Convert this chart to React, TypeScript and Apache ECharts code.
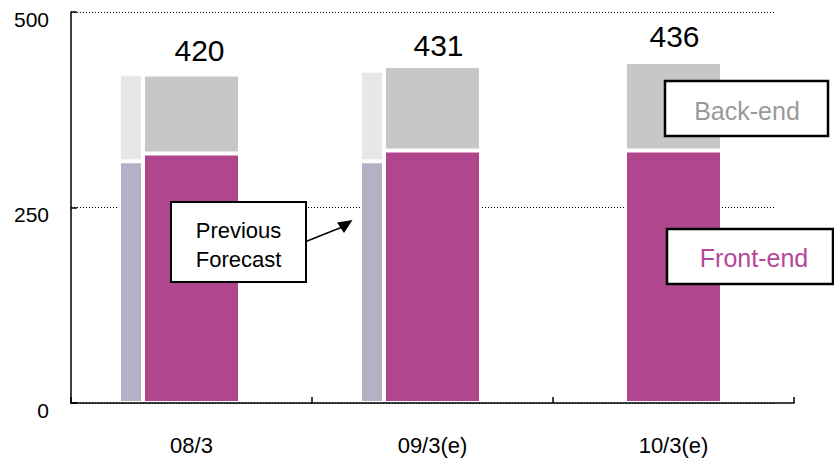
import React, { useEffect, useRef } from "react";
import * as echarts from "echarts";

// Fiscal years on the category axis
const categories = ["08/3", "09/3(e)", "10/3(e)"];

// Current figures, stacked: front-end at the bottom, back-end above it
const frontEnd = [319, 323, 323];
const backEnd = [101, 108, 113];

// Previous forecast, drawn as a narrow bar to the left
const prevFrontEnd: (number | null)[] = [309, 309, null];
const prevBackEnd: (number | null)[] = [112, 116, null];

// Value axis
const yMin = 0;
const yMax = 500;
const yStep = 250;

const FONT = "'Liberation Sans', Arial, Helvetica, sans-serif";
const MAGENTA = "#B0478E";
const BACK_GRAY = "#C7C7C7";
const PREV_FRONT = "#B4B1C7";
const PREV_BACK = "#E7E7E7";

// small nudges for the total labels
const totalLabelOffsets: [number, number][] = [
  [8, -1],
  [6, 3],
  [1, -3],
];

export default function App() {
  const ref = useRef<HTMLDivElement>(null);

  useEffect(() => {
    if (!ref.current) return;
    const chart = echarts.init(ref.current, undefined, { renderer: "svg" });

    const barBorder = { borderColor: "#ffffff", borderWidth: 2 };
    const Z = 100;

    const option: echarts.EChartsOption = {
      animation: false,
      backgroundColor: "#ffffff",
      textStyle: { fontFamily: FONT },
      grid: [
        { left: 71, right: 40, top: 12, bottom: 56, containLabel: false },
        { left: 71, right: 60, top: 12, bottom: 56, containLabel: false },
      ],
      xAxis: [
        {
          type: "category",
          gridIndex: 0,
          data: categories,
          boundaryGap: true,
          z: 5,
          axisLine: { lineStyle: { color: "#000", width: 1.5 } },
          axisTick: {
            show: true,
            inside: true,
            length: 6,
            lineStyle: { color: "#000", width: 1.5 },
          },
          axisLabel: {
            color: "#000",
            fontSize: 22,
            fontFamily: FONT,
            margin: 31,
          },
        },
        {
          type: "value",
          gridIndex: 1,
          min: 0,
          max: 1,
          show: false,
        },
      ],
      yAxis: [
        {
          type: "value",
          gridIndex: 0,
          min: yMin,
          max: yMax,
          interval: yStep,
          z: 5,
          axisLine: { show: true, lineStyle: { color: "#000", width: 1.5 } },
          axisTick: {
            show: true,
            inside: true,
            length: 6,
            lineStyle: { color: "#000", width: 1.5 },
          },
          axisLabel: {
            color: "#000",
            fontSize: 21,
            fontFamily: FONT,
            margin: 22,
            verticalAlign: "top",
            lineHeight: 14,
          },
          splitLine: { show: false },
        },
        {
          type: "value",
          gridIndex: 1,
          min: yMin,
          max: yMax,
          interval: yStep,
          axisLine: { show: false },
          axisTick: { show: false },
          axisLabel: { show: false },
          splitLine: {
            show: true,
            lineStyle: { color: "#000", width: 1, type: [1, 2] },
          },
        },
      ],
      series: [
        {
          name: "Previous front-end",
          type: "bar",
          stack: "prev",
          barWidth: 24,
          barGap: "0%",
          data: prevFrontEnd,
          itemStyle: { color: PREV_FRONT, ...barBorder },
        },
        {
          name: "Previous back-end",
          type: "bar",
          stack: "prev",
          data: prevBackEnd,
          itemStyle: { color: PREV_BACK, ...barBorder },
        },
        {
          name: "Front-end",
          type: "bar",
          stack: "main",
          barWidth: 97,
          barGap: "0%",
          data: frontEnd,
          itemStyle: { color: MAGENTA, ...barBorder },
        },
        {
          name: "Back-end",
          type: "bar",
          stack: "main",
          data: backEnd.map((v, i) => ({
            value: v,
            label: { offset: totalLabelOffsets[i] },
          })),
          itemStyle: { color: BACK_GRAY, ...barBorder },
          label: {
            show: true,
            position: "top",
            distance: 8,
            color: "#000",
            fontSize: 30,
            fontFamily: FONT,
            formatter: (p: any) =>
              String(frontEnd[p.dataIndex] + backEnd[p.dataIndex]),
          },
        },
        {
          // keeps the main bar centred on its category
          name: "spacer",
          type: "bar",
          stack: "spacer",
          barWidth: 24,
          barGap: "0%",
          data: categories.map(() => "-"),
          itemStyle: { color: "transparent" },
          silent: true,
        },
      ],
      graphic: [
        {
          type: "rect",
          z: Z,
          shape: { x: 171, y: 202, width: 135, height: 80 },
          style: { fill: "#fff", stroke: "#000", lineWidth: 2 },
        },
        {
          type: "text",
          z: Z + 1,
          x: 238.5,
          y: 244.5,
          style: {
            text: "Previous\nForecast",
            fill: "#000",
            font: `22px ${FONT}`,
            lineHeight: 29,
            align: "center",
            verticalAlign: "middle",
          },
        },
        {
          type: "line",
          z: Z,
          shape: { x1: 306, y1: 241.5, x2: 341, y2: 227.5 },
          style: { stroke: "#000", lineWidth: 1.5 },
        },
        {
          type: "polygon",
          z: Z,
          shape: {
            points: [
              [352.5, 220],
              [337, 222.5],
              [344, 233],
            ],
          },
          style: { fill: "#000" },
        },
        {
          type: "rect",
          z: Z,
          shape: { x: 665, y: 81, width: 163, height: 55 },
          style: { fill: "#fff", stroke: "#000", lineWidth: 2.5 },
        },
        {
          type: "text",
          z: Z + 1,
          x: 747,
          y: 111,
          style: {
            text: "Back-end",
            fill: "#999999",
            font: `25px ${FONT}`,
            align: "center",
            verticalAlign: "middle",
          },
        },
        {
          type: "rect",
          z: Z,
          shape: { x: 667, y: 229, width: 166, height: 55 },
          style: { fill: "#fff", stroke: "#000", lineWidth: 2.5 },
        },
        {
          type: "text",
          z: Z + 1,
          x: 754,
          y: 258,
          style: {
            text: "Front-end",
            fill: "#B5479A",
            font: `25px ${FONT}`,
            align: "center",
            verticalAlign: "middle",
          },
        },
      ],
    };

    chart.setOption(option);
    return () => chart.dispose();
  }, []);

  return (
    <div
      ref={ref}
      style={{ position: "fixed", left: 0, top: 0, width: 834, height: 459 }}
    />
  );
}
